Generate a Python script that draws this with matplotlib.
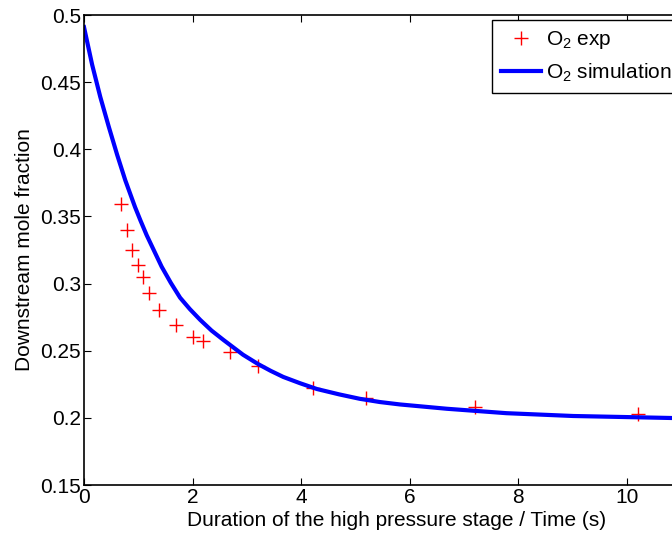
import numpy as np
import matplotlib
matplotlib.use("Agg")
import matplotlib.pyplot as plt

plt.rcParams['font.family'] = ['Liberation Sans', 'DejaVu Sans']

# experimental O2 points
t_exp = [0.69, 0.80, 0.89, 1.00, 1.09, 1.20, 1.39, 1.69, 2.00, 2.20,
         2.69, 3.21, 4.21, 5.19, 7.20, 10.21]
o2_exp = [0.359, 0.340, 0.325, 0.314, 0.305, 0.293, 0.280, 0.269, 0.260, 0.257,
          0.249, 0.239, 0.222, 0.215, 0.208, 0.203]

# simulated O2 curve
t_sim = [0.0, 0.15, 0.30, 0.455, 0.61, 0.76, 0.94, 1.04, 1.155, 1.43, 1.6,
         1.77, 1.95, 2.14, 2.35, 2.57, 2.75, 2.93, 3.21, 3.44, 3.67, 3.98,
         4.29, 4.7, 5.08, 5.45, 5.82, 6.68, 7.78, 9.01, 10.24, 10.83, 11.53]
o2_sim = [0.491, 0.463, 0.439, 0.417, 0.396, 0.377, 0.357, 0.347, 0.336,
          0.3126, 0.3005, 0.2895, 0.281, 0.273, 0.265, 0.258, 0.2525, 0.247,
          0.240, 0.235, 0.2305, 0.2258, 0.2215, 0.2175, 0.2142, 0.2118,
          0.2100, 0.2068, 0.2035, 0.2014, 0.2004, 0.1999, 0.1996]

fig = plt.figure(figsize=(6.72, 5.37), dpi=100)
ax = fig.add_axes([0.125, 0.0968, 0.9315, 0.8752])

ax.plot(t_exp, o2_exp, '+', color='red', markersize=10, mew=1.0,
        label=r'$\mathregular{O_2}$ exp')
ax.plot(t_sim, o2_sim, '-', color='blue', lw=3,
        label=r'$\mathregular{O_2}$ simulation')

ax.set_xlim(0, 11.53)
ax.set_ylim(0.15, 0.5)
ax.set_xticks([0, 2, 4, 6, 8, 10])
ax.set_yticks([0.15, 0.2, 0.25, 0.3, 0.35, 0.4, 0.45, 0.5])
ax.set_yticklabels(['0.15', '0.2', '0.25', '0.3', '0.35', '0.4', '0.45', '0.5'])
ax.tick_params(direction='in', length=5, top=True, right=True, labelsize=15,
               pad=2)
for s in ax.spines.values():
    s.set_linewidth(1.2)

ax.set_xlabel('Duration of the high pressure stage / Time (s)', fontsize=15,
              labelpad=3)
ax.set_ylabel('Downstream mole fraction', fontsize=15, labelpad=5)

leg = ax.legend(loc='upper left', bbox_to_anchor=(0.7321, 0.9628),
                bbox_transform=fig.transFigure, fontsize=15, frameon=True,
                fancybox=False, framealpha=1, edgecolor='black',
                handlelength=1.9, borderpad=0.45, labelspacing=0.5,
                handletextpad=0.25, borderaxespad=0)
leg.get_frame().set_linewidth(1.0)

fig.savefig('out.png', dpi=100)
